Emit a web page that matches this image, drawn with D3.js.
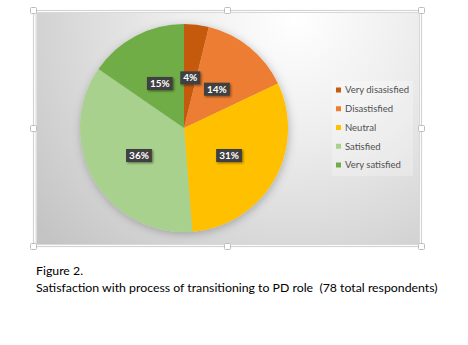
<!DOCTYPE html>
<html>
<head>
<meta charset="utf-8">
<script src="https://cdn.jsdelivr.net/npm/d3@7"></script>
<style>
  html, body { margin: 0; padding: 0; background: #ffffff; }
  svg { display: block; }
  text { white-space: pre; }
</style>
</head>
<body>
<svg id="chart" width="468" height="345"></svg>
<script>
// Survey responses (78 respondents)
const categories = ["Very disasisfied", "Disastisfied", "Neutral", "Satisfied", "Very satisfied"];
const counts = [3, 11, 24, 28, 12];
const percentLabels = ["4%", "14%", "31%", "36%", "15%"];
const colors = ["#C55A11", "#ED7D31", "#FFC000", "#A9D18E", "#70AD47"];
const captionLines = ["Figure 2.", "Satisfaction with process of transitioning to PD role  (78 total respondents)"];

const svg = d3.select("#chart");
const FONT = "Lato, 'Open Sans', sans-serif";

const defs = svg.append("defs");
const bg = defs.append("radialGradient")
  .attr("id", "bgGrad").attr("gradientUnits", "userSpaceOnUse")
  .attr("cx", 295).attr("cy", 18).attr("r", 330);
bg.append("stop").attr("offset", "0").attr("stop-color", "#ffffff");
bg.append("stop").attr("offset", "0.35").attr("stop-color", "#eeeeee");
bg.append("stop").attr("offset", "1").attr("stop-color", "#c4c4c4");

const pieShadow = defs.append("filter").attr("id", "pieShadow")
  .attr("x", "-20%").attr("y", "-20%").attr("width", "140%").attr("height", "140%");
pieShadow.append("feDropShadow").attr("dx", 1).attr("dy", 2).attr("stdDeviation", 4)
  .attr("flood-color", "#000").attr("flood-opacity", 0.25);

const boxShadow = defs.append("filter").attr("id", "boxShadow")
  .attr("x", "-30%").attr("y", "-30%").attr("width", "160%").attr("height", "160%");
boxShadow.append("feDropShadow").attr("dx", 1.2).attr("dy", 1.2).attr("stdDeviation", 0.9)
  .attr("flood-color", "#000").attr("flood-opacity", 0.45);

// Chart area
svg.append("rect").attr("x", 36.5).attr("y", 12.5).attr("width", 383).attr("height", 232)
  .attr("fill", "url(#bgGrad)");

// Selection frame with handles
const frame = svg.append("g");
frame.append("rect").attr("x", 33.5).attr("y", 10.5).attr("width", 388).attr("height", 236)
  .attr("fill", "none").attr("stroke", "#d4d4d4").attr("stroke-width", 1.2);
frame.append("rect").attr("x", 36).attr("y", 12.5).attr("width", 383.5).attr("height", 232)
  .attr("fill", "none").attr("stroke", "#d9d9d9").attr("stroke-width", 1);
const handles = [[33.5, 10.5], [227.5, 10.5], [421.5, 10.5], [33.5, 128.5], [421.5, 128.5],
                 [33.5, 246.5], [227.5, 246.5], [421.5, 246.5]];
frame.selectAll("rect.h").data(handles).join("rect").attr("class", "h")
  .attr("x", d => d[0] - 3).attr("y", d => d[1] - 3).attr("width", 6).attr("height", 6)
  .attr("rx", 1).attr("fill", "#ffffff").attr("stroke", "#bdbdbd").attr("stroke-width", 1);

// Pie
const cx = 184, cy = 128, R = 104;
const pie = d3.pie().sort(null).value(d => d);
const arcs = pie(counts);
const arc = d3.arc().innerRadius(0).outerRadius(R);
const labelArc = d3.arc().innerRadius(52).outerRadius(52);

const g = svg.append("g").attr("transform", `translate(${cx},${cy})`);
g.append("g").attr("filter", "url(#pieShadow)")
  .selectAll("path").data(arcs).join("path")
  .attr("d", arc).attr("fill", (d, i) => colors[i]);

// Data labels
const lab = g.selectAll("g.lab").data(arcs).join("g").attr("class", "lab")
  .attr("transform", d => { const c = labelArc.centroid(d); return `translate(${c[0]},${c[1] + 1.5})`; });
lab.each(function (d, i) {
  const el = d3.select(this);
  const rect = el.append("rect").attr("fill", "#404040").attr("filter", "url(#boxShadow)");
  const t = el.append("text").text(percentLabels[i])
    .attr("text-anchor", "middle").attr("dy", "0.35em")
    .attr("font-family", FONT).attr("font-weight", "bold").attr("font-size", 10)
    .attr("fill", "#ffffff");
  const w = t.node().getComputedTextLength() + 6;
  rect.attr("x", -w / 2).attr("y", -6.5).attr("width", w).attr("height", 13);
});

// Legend
const legend = svg.append("g");
legend.append("rect").attr("x", 332).attr("y", 81).attr("width", 81).attr("height", 95)
  .attr("fill", "#ffffff").attr("opacity", 0.25);
const items = legend.selectAll("g.item").data(categories).join("g").attr("class", "item")
  .attr("transform", (d, i) => `translate(336,${90 + i * 18.75})`);
items.append("rect").attr("x", 0).attr("y", -2.5).attr("width", 5).attr("height", 5)
  .attr("fill", (d, i) => colors[i]);
items.append("text").text(d => d).attr("x", 9).attr("dy", "0.35em")
  .attr("font-family", FONT).attr("font-size", 9.5).attr("fill", "#505050");

// Caption
const cap = svg.append("g").attr("font-family", FONT).attr("fill", "#000000");
cap.selectAll("text").data(captionLines).join("text")
  .attr("x", 36).attr("y", (d, i) => 275 + i * 16.6)
  .attr("font-size", 12.3).text(d => d);
</script>
</body>
</html>
